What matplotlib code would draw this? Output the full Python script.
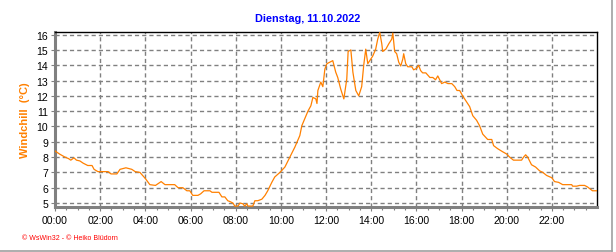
import matplotlib
matplotlib.use("Agg")
import matplotlib.pyplot as plt
from matplotlib.lines import Line2D
import numpy as np

# ---- data (hours of day, windchill in °C) ----
hours = [0.0, 0.2, 0.44, 0.6, 0.7, 0.84, 0.95, 1.1, 1.25, 1.45, 1.64, 1.73, 1.9, 2.35,
         2.48, 2.74, 2.88, 3.14, 3.4, 3.55, 3.76, 4.0, 4.2, 4.45, 4.7, 4.87, 5.3, 5.45,
         5.66, 5.84, 5.97, 6.1, 6.33, 6.45, 6.6, 6.86, 6.95, 7.26, 7.39, 7.52, 7.65, 7.74,
         7.88, 7.96, 8.1, 8.19, 8.32, 8.4, 8.5, 8.54, 8.76, 8.85, 8.98, 9.16, 9.3, 9.42,
         9.6, 9.73, 9.96, 10.18, 10.4, 10.62, 10.84, 10.93, 11.06, 11.2, 11.33, 11.42,
         11.55, 11.6, 11.64, 11.77, 11.86, 11.95, 12.04, 12.3, 12.43, 12.52, 12.65, 12.79,
         12.92, 12.98, 13.1, 13.19, 13.32, 13.45, 13.58, 13.67, 13.76, 13.85, 13.98, 14.07,
         14.2, 14.29, 14.38, 14.47, 14.51, 14.65, 14.78, 14.91, 14.96, 15.04, 15.13, 15.22,
         15.31, 15.4, 15.44, 15.53, 15.62, 15.8, 15.88, 16.02, 16.1, 16.19, 16.28, 16.42,
         16.6, 16.73, 16.85, 16.95, 17.12, 17.26, 17.4, 17.57, 17.7, 17.8, 17.92, 18.05,
         18.23, 18.36, 18.5, 18.67, 18.8, 18.94, 19.16, 19.34, 19.42, 19.6, 19.82, 20.0,
         20.13, 20.3, 20.66, 20.75, 20.84, 20.93, 21.1, 21.28, 21.46, 21.6, 21.77, 22.0,
         22.12, 22.3, 22.48, 22.88, 22.92, 23.1, 23.23, 23.45, 23.58, 23.8, 23.98]
windchill = [8.4, 8.2, 8.0, 7.9, 7.8, 7.95, 7.8, 7.75, 7.6, 7.45, 7.45, 7.2, 7.05, 7.05,
             6.9, 6.9, 7.2, 7.3, 7.2, 7.05, 7.0, 6.6, 6.2, 6.15, 6.4, 6.2, 6.2, 6.0,
             6.0, 5.8, 5.8, 5.5, 5.5, 5.6, 5.8, 5.8, 5.7, 5.7, 5.4, 5.4, 5.15, 5.1,
             5.0, 4.8, 4.8, 5.0, 4.95, 4.8, 4.95, 4.8, 4.8, 5.15, 5.15, 5.25, 5.5, 5.8,
             6.35, 6.7, 7.0, 7.35, 8.0, 8.65, 9.4, 10.05, 10.5, 11.0, 11.35, 11.9,
             11.8, 11.5, 12.35, 12.9, 12.6, 13.75, 14.1, 14.3, 13.55, 13.2, 12.45, 11.8,
             13.1, 14.9, 15.0, 13.55, 12.35, 12.0, 12.6, 14.0, 15.05, 14.1, 14.4, 14.6,
             15.05, 15.7, 16.15, 15.4, 14.9, 15.05, 15.4, 15.7, 16.1, 14.9, 14.75, 14.2,
             13.95, 14.4, 14.75, 14.1, 13.9, 13.9, 13.7, 13.8, 14.0, 13.65, 13.5, 13.5,
             13.2, 13.2, 13.05, 13.3, 12.8, 12.9, 12.8, 12.8, 12.6, 12.35, 12.35, 12.0,
             11.6, 11.3, 10.7, 10.4, 10.05, 9.5, 9.15, 9.15, 8.75, 8.55, 8.35, 8.2,
             8.0, 7.8, 7.8, 8.0, 8.15, 8.0, 7.5, 7.35, 7.1, 7.0, 6.8, 6.65,
             6.4, 6.35, 6.2, 6.2, 6.1, 6.1, 6.15, 6.15, 6.05, 5.8, 5.8]
x_ticks = list(range(0, 24, 2))
x_tick_labels = ["00:00", "02:00", "04:00", "06:00", "08:00", "10:00",
                 "12:00", "14:00", "16:00", "18:00", "20:00", "22:00"]
y_ticks = list(range(5, 17))
title = "Dienstag, 11.10.2022"
ylabel = "Windchill  (°C)"
footer = "© WsWin32 - © Heiko Blüdorn"

plt.rcParams['font.family'] = ['Liberation Sans', 'DejaVu Sans']

W, H = 616, 253
fig = plt.figure(figsize=(W / 100, H / 100), dpi=100)
fig.patch.set_facecolor('white')
L, R, T, B = 55, 597, 33, 208
ax = fig.add_axes([L / W, 1 - B / H, (R - L) / W, (B - T) / H])

ax.plot(hours, windchill, color='#FF8000', lw=0.9, zorder=3)

ax.set_xlim(0, 24)
ax.set_ylim(4.74, 16.17)

ax.set_xticks(x_ticks)
ax.set_xticklabels(x_tick_labels)
ax.set_xticks(np.arange(0, 24, 0.5), minor=True)
ax.set_yticks(y_ticks)

for x in x_ticks[1:]:
    ax.axvline(x, color='#808080', lw=1.0, ls=(0, (3.0, 2.2)), zorder=1)
for y in y_ticks:
    ax.axhline(y, color='#808080', lw=1.0, ls=(0, (3.0, 2.2)), zorder=1)

ax.tick_params(axis='both', which='major', labelsize=7.6, colors='#808080',
               labelcolor='black', length=3, width=0.8, pad=2)
ax.tick_params(axis='x', which='minor', length=2.5, width=0.8, colors='#808080')
ax.tick_params(axis='x', which='major', pad=3)

for s in ['left', 'bottom']:
    ax.spines[s].set_color('#808080')
    ax.spines[s].set_linewidth(2.2)
for s in ['top', 'right']:
    ax.spines[s].set_color('black')
    ax.spines[s].set_linewidth(1.0)

fig.text(308 / W, 1 - 19 / H, title, color='#0000FF', fontsize=7.8,
         fontweight='bold', ha='center', va='center')
fig.text(25 / W, 1 - 120 / H, ylabel, color='#FF8000', fontsize=8,
         fontweight='bold', rotation=90, ha='center', va='center')
fig.text(22 / W, 1 - 239 / H, footer, color='#FF0000', fontsize=5,
         ha='left', va='center')

# window border lines (right and bottom)
fig.add_artist(Line2D([612 / W, 612 / W], [1 - 251.5 / H, 1], transform=fig.transFigure,
                      color='#a0a0a0', lw=1.2))
fig.add_artist(Line2D([0, 612 / W], [1 - 251.5 / H, 1 - 251.5 / H], transform=fig.transFigure,
                      color='#a0a0a0', lw=1.2))

fig.savefig('out.png', dpi=100, facecolor='white')
